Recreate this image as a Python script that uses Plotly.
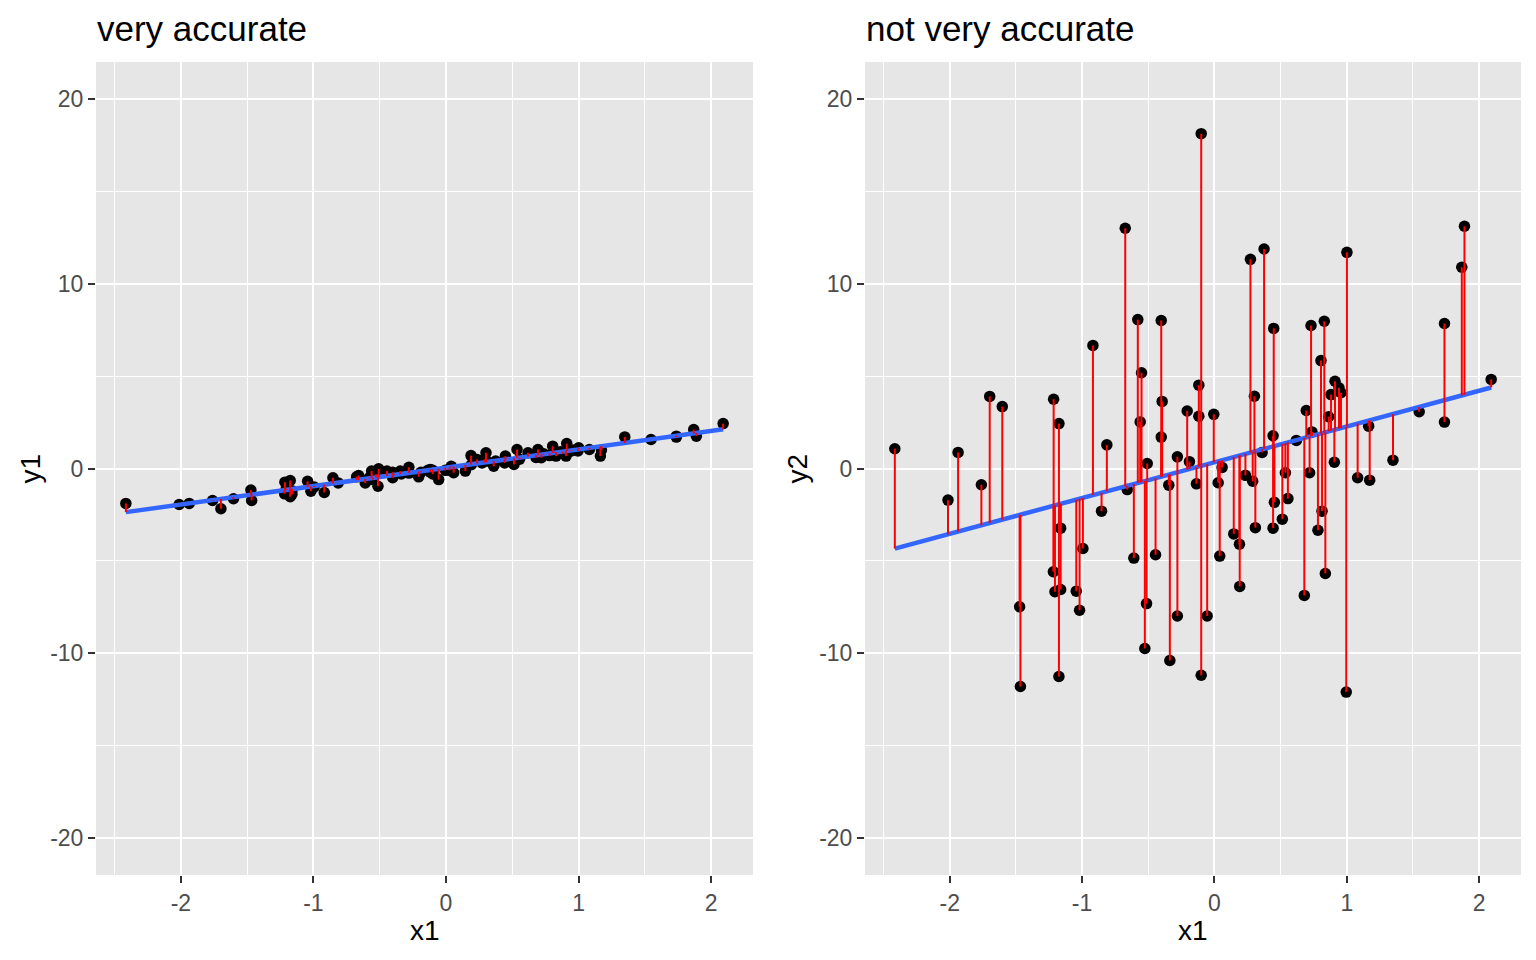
import numpy as np
import plotly.graph_objects as go

# ---- data ----
x1 = [-2.415, -2.013, -1.937, -1.761, -1.698, -1.603, -1.472, -1.466, -1.215, -1.217,
      -1.205, -1.175, -1.175, -1.162, -1.162, -1.044, -1.019, -0.994, -0.918, -0.853,
      -0.813, -0.674, -0.659, -0.609, -0.579, -0.561, -0.551, -0.526, -0.513, -0.508,
      -0.445, -0.402, -0.395, -0.402, -0.345, -0.337, -0.280, -0.280, -0.206, -0.189,
      -0.136, -0.118, -0.118, -0.100, -0.100, -0.055, -0.005, 0.028, 0.058, 0.040,
      0.146, 0.189, 0.191, 0.234, 0.272, 0.289, 0.302, 0.309, 0.360, 0.375,
      0.448, 0.443, 0.453, 0.443, 0.513, 0.536, 0.555, 0.619, 0.694, 0.679,
      0.719, 0.737, 0.730, 0.782, 0.805, 0.813, 0.830, 0.838, 0.863, 0.881,
      0.911, 0.941, 0.956, 0.906, 1.001, 0.996, 1.082, 1.165, 1.173, 1.349,
      1.547, 1.738, 1.738, 1.869, 1.889, 2.091]

y1 = [-1.89, -1.95, -1.89, -1.73, -2.18, -1.64, -1.17, -1.73, -0.74, -1.37,
      -1.10, -0.65, -1.53, -1.20, -1.40, -0.69, -1.23, -1.00, -1.30, -0.50,
      -0.78, -0.45, -0.38, -0.78, -0.50, -0.14, -0.60, -0.30, -0.96, -0.02,
      -0.14, -0.50, -0.30, -0.20, -0.14, -0.30, 0.07, -0.25, -0.45, -0.20,
      -0.10, -0.05, -0.20, -0.10, -0.30, -0.60, -0.10, -0.10, -0.23, 0.12,
      -0.14, 0.70, 0.20, 0.49, 0.30, 0.50, 0.85, 0.40, 0.12, 0.40,
      0.67, 0.30, 0.50, 0.45, 0.22, 1.03, 0.50, 0.85, 1.03, 0.60,
      0.58, 0.80, 0.75, 0.70, 1.21, 0.90, 0.67, 0.85, 0.90, 0.80,
      1.35, 0.94, 1.00, 0.67, 1.12, 0.95, 1.03, 0.67, 1.00, 1.71,
      1.57, 1.75, 1.70, 2.11, 1.75, 2.43]

y2 = [1.07, -1.71, 0.87, -0.88, 3.90, 3.35, -7.48, -11.80, 3.75, -5.59,
      -6.67, 2.43, -11.26, -3.23, -6.55, -6.64, -7.67, -4.33, 6.66, -2.31,
      1.28, 13.00, -1.14, -4.85, 8.06, 2.52, 5.18, -9.74, -7.31, 0.27,
      -4.67, 8.01, 3.63, 1.70, -0.90, -10.39, 0.63, -7.98, 3.11, 0.37,
      -0.83, 4.51, 2.83, 18.12, -11.19, -7.98, 2.93, -0.77, 0.06, -4.74,
      -3.54, -4.10, -6.38, -0.37, 11.32, -0.69, 3.91, -3.20, 0.87, 11.88,
      7.58, 1.77, -1.83, -3.23, -2.74, -0.23, -1.63, 1.52, 3.14, -6.87,
      -0.23, 1.98, 7.74, -3.34, 5.84, -2.31, 7.97, -5.68, 2.80, 4.00,
      4.72, 4.37, 4.10, 0.34, 11.70, -12.10, -0.50, 2.29, -0.63, 0.45,
      3.07, 7.85, 2.51, 10.89, 13.11, 4.82]

titles = ["very accurate", "not very accurate"]
x_ticks = [-2, -1, 0, 1, 2]
y_ticks = [-20, -10, 0, 10, 20]

x = np.array(x1)
series = [np.array(y1), np.array(y2)]

fig = go.Figure()

FONT = "Liberation Sans, Arial, Helvetica, sans-serif"
W, H = 1536, 960
OFF = 8  # page body margin


def px(v):
    return (v - OFF) / W


def py(v):
    return 1 - (v - OFF) / H


dom_x = [[px(96), px(753)], [px(865), px(1521)]]
dom_y = [py(875), py(62)]

xmin, xmax = x.min(), x.max()
xr = xmax - xmin
xrange_ = [xmin - 0.05 * xr, xmax + 0.05 * xr]

for i, y in enumerate(series):
    xa = "x" if i == 0 else "x2"
    ya = "y" if i == 0 else "y2"
    slope, intercept = np.polyfit(x, y, 1)
    fitted = intercept + slope * x

    # points
    fig.add_trace(go.Scatter(x=x, y=y, mode="markers", xaxis=xa, yaxis=ya,
                             marker=dict(color="black", size=11.5, line=dict(width=0)),
                             showlegend=False, hoverinfo="skip"))
    # fit line
    lx = np.array([xmin, xmax])
    fig.add_trace(go.Scatter(x=lx, y=intercept + slope * lx, mode="lines",
                             xaxis=xa, yaxis=ya,
                             line=dict(color="#3366FF", width=4.5),
                             showlegend=False, hoverinfo="skip"))
    # residual segments
    sx, sy = [], []
    for xi, yi, fi in zip(x, y, fitted):
        sx += [xi, xi, None]
        sy += [yi, fi, None]
    fig.add_trace(go.Scatter(x=sx, y=sy, mode="lines", xaxis=xa, yaxis=ya,
                             line=dict(color="#FF0000", width=2),
                             showlegend=False, hoverinfo="skip"))

axis_common = dict(showline=False, zeroline=False, ticks="outside", ticklen=7,
                   tickwidth=2, tickcolor="#333333", showgrid=True,
                   gridcolor="white", gridwidth=2,
                   tickfont=dict(family=FONT, size=23, color="#4D4D4D"))

for i in range(2):
    sfx = "" if i == 0 else "2"
    fig.update_layout(**{
        "xaxis" + sfx: dict(axis_common, domain=dom_x[i], range=xrange_,
                            tickvals=x_ticks, ticktext=[str(v) for v in x_ticks],
                            anchor="y" + sfx,
                            minor=dict(tickvals=[-2.5, -1.5, -0.5, 0.5, 1.5],
                                       showgrid=True, gridcolor="white", gridwidth=1,
                                       ticks="")),
        "yaxis" + sfx: dict(axis_common, domain=dom_y, range=[-22, 22],
                            tickvals=y_ticks, ticktext=[str(v) for v in y_ticks],
                            anchor="x" + sfx,
                            minor=dict(tickvals=[-15, -5, 5, 15], showgrid=True,
                                       gridcolor="white", gridwidth=1, ticks="")),
    })

annotations = []
for i in range(2):
    annotations.append(dict(text=titles[i], x=dom_x[i][0] - 1 / W, y=py(28),
                            xref="paper", yref="paper", xanchor="left", yanchor="middle",
                            showarrow=False, font=dict(family=FONT, size=35, color="black")))
    annotations.append(dict(text="x1", x=(dom_x[i][0] + dom_x[i][1]) / 2, y=py(930),
                            xref="paper", yref="paper", xanchor="center", yanchor="middle",
                            showarrow=False, font=dict(family=FONT, size=28, color="black")))
    annotations.append(dict(text="y%d" % (i + 1), x=px(30 if i == 0 else 797),
                            y=(dom_y[0] + dom_y[1]) / 2,
                            xref="paper", yref="paper", xanchor="center", yanchor="middle",
                            textangle=-90, showarrow=False,
                            font=dict(family=FONT, size=28, color="black")))

fig.update_layout(width=W, height=H, margin=dict(l=0, r=0, t=0, b=0),
                  paper_bgcolor="white", plot_bgcolor="#E6E6E6",
                  annotations=annotations, showlegend=False)

fig.write_html("out.html", config={"displayModeBar": False})
